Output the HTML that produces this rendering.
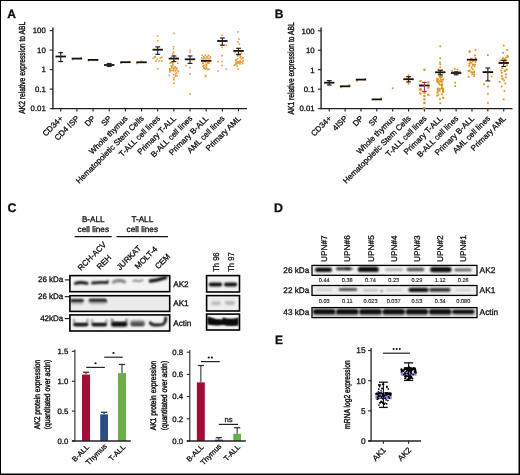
<!DOCTYPE html>
<html><head><meta charset="utf-8"><style>
html,body{margin:0;padding:0;background:#fff;}
text{stroke:#111;stroke-width:0.3px;}
svg{display:block;font-family:"Liberation Sans", sans-serif;text-rendering:geometricPrecision;opacity:0.999;}
</style></head><body>
<svg width="520" height="475" viewBox="0 0 520 475">
<rect x="0" y="0" width="520" height="475" fill="#fff"/>
<text x="7.30" y="17.50" font-size="12" text-anchor="start" font-weight="bold" fill="#111">A</text>
<line x1="52.90" y1="27.50" x2="52.90" y2="109.20" stroke="#222" stroke-width="1.4"/>
<line x1="49.70" y1="108.60" x2="52.90" y2="108.60" stroke="#222" stroke-width="1.1"/>
<text x="45.80" y="111.40" font-size="7.8" text-anchor="end" fill="#111">0.01</text>
<line x1="49.70" y1="89.10" x2="52.90" y2="89.10" stroke="#222" stroke-width="1.1"/>
<text x="45.80" y="91.90" font-size="7.8" text-anchor="end" fill="#111">0.1</text>
<line x1="49.70" y1="69.60" x2="52.90" y2="69.60" stroke="#222" stroke-width="1.1"/>
<text x="45.80" y="72.40" font-size="7.8" text-anchor="end" fill="#111">1</text>
<line x1="49.70" y1="50.10" x2="52.90" y2="50.10" stroke="#222" stroke-width="1.1"/>
<text x="45.80" y="52.90" font-size="7.8" text-anchor="end" fill="#111">10</text>
<line x1="49.70" y1="30.60" x2="52.90" y2="30.60" stroke="#222" stroke-width="1.1"/>
<text x="45.80" y="33.40" font-size="7.8" text-anchor="end" fill="#111">100</text>
<line x1="52.20" y1="108.60" x2="247.00" y2="108.60" stroke="#222" stroke-width="1.4"/>
<line x1="60.75" y1="108.60" x2="60.75" y2="111.40" stroke="#222" stroke-width="1.1"/>
<text x="63.55" y="119.00" font-size="8.0" text-anchor="end" transform="rotate(-45 63.55 119.0)" fill="#111">CD34+</text>
<line x1="76.91" y1="108.60" x2="76.91" y2="111.40" stroke="#222" stroke-width="1.1"/>
<text x="79.71" y="119.00" font-size="8.0" text-anchor="end" transform="rotate(-45 79.71 119.0)" fill="#111">CD4 ISP</text>
<line x1="93.07" y1="108.60" x2="93.07" y2="111.40" stroke="#222" stroke-width="1.1"/>
<text x="95.87" y="119.00" font-size="8.0" text-anchor="end" transform="rotate(-45 95.86999999999999 119.0)" fill="#111">DP</text>
<line x1="109.23" y1="108.60" x2="109.23" y2="111.40" stroke="#222" stroke-width="1.1"/>
<text x="112.03" y="119.00" font-size="8.0" text-anchor="end" transform="rotate(-45 112.03 119.0)" fill="#111">SP</text>
<line x1="125.39" y1="108.60" x2="125.39" y2="111.40" stroke="#222" stroke-width="1.1"/>
<text x="128.19" y="119.00" font-size="8.0" text-anchor="end" transform="rotate(-45 128.19 119.0)" fill="#111">Whole thymus</text>
<line x1="141.55" y1="108.60" x2="141.55" y2="111.40" stroke="#222" stroke-width="1.1"/>
<text x="144.35" y="119.00" font-size="8.0" text-anchor="end" transform="rotate(-45 144.35000000000002 119.0)" fill="#111">Hematopoietic Stem Cells</text>
<line x1="157.71" y1="108.60" x2="157.71" y2="111.40" stroke="#222" stroke-width="1.1"/>
<text x="160.51" y="119.00" font-size="8.0" text-anchor="end" transform="rotate(-45 160.51000000000002 119.0)" fill="#111">T-ALL cell lines</text>
<line x1="173.87" y1="108.60" x2="173.87" y2="111.40" stroke="#222" stroke-width="1.1"/>
<text x="176.67" y="119.00" font-size="8.0" text-anchor="end" transform="rotate(-45 176.67000000000002 119.0)" fill="#111">Primary T-ALL</text>
<line x1="190.03" y1="108.60" x2="190.03" y2="111.40" stroke="#222" stroke-width="1.1"/>
<text x="192.83" y="119.00" font-size="8.0" text-anchor="end" transform="rotate(-45 192.83 119.0)" fill="#111">B-ALL cell lines</text>
<line x1="206.19" y1="108.60" x2="206.19" y2="111.40" stroke="#222" stroke-width="1.1"/>
<text x="208.99" y="119.00" font-size="8.0" text-anchor="end" transform="rotate(-45 208.99 119.0)" fill="#111">Primary B-ALL</text>
<line x1="222.35" y1="108.60" x2="222.35" y2="111.40" stroke="#222" stroke-width="1.1"/>
<text x="225.15" y="119.00" font-size="8.0" text-anchor="end" transform="rotate(-45 225.15 119.0)" fill="#111">AML cell lines</text>
<line x1="238.51" y1="108.60" x2="238.51" y2="111.40" stroke="#222" stroke-width="1.1"/>
<text x="241.31" y="119.00" font-size="8.0" text-anchor="end" transform="rotate(-45 241.31 119.0)" fill="#111">Primary AML</text>
<text x="21.9" y="67.8" font-size="8.8" text-anchor="middle" transform="rotate(-90 21.9 67.8)" textLength="92.0" lengthAdjust="spacingAndGlyphs" dominant-baseline="central" fill="#111" style="stroke-width:0.42px">AK2 relative expression to ABL</text>
<rect x="59.95" y="51.60" width="1.6" height="1.6" fill="#ec9a2c"/>
<rect x="59.95" y="61.10" width="1.6" height="1.6" fill="#ec9a2c"/>
<line x1="55.55" y1="56.50" x2="65.95" y2="56.50" stroke="#111" stroke-width="1.8"/>
<line x1="60.75" y1="52.70" x2="60.75" y2="61.50" stroke="#222" stroke-width="1.1"/>
<line x1="58.35" y1="52.70" x2="63.15" y2="52.70" stroke="#222" stroke-width="1.2"/>
<line x1="58.35" y1="61.50" x2="63.15" y2="61.50" stroke="#222" stroke-width="1.2"/>
<rect x="71.81" y="58.80" width="1.6" height="1.6" fill="#ec9a2c"/>
<rect x="80.61" y="56.80" width="1.6" height="1.6" fill="#ec9a2c"/>
<line x1="71.71" y1="58.60" x2="82.11" y2="58.60" stroke="#111" stroke-width="1.8"/>
<rect x="87.57" y="59.90" width="1.6" height="1.6" fill="#ec9a2c"/>
<rect x="96.77" y="59.00" width="1.6" height="1.6" fill="#ec9a2c"/>
<line x1="87.87" y1="59.90" x2="98.27" y2="59.90" stroke="#111" stroke-width="1.8"/>
<rect x="108.03" y="62.70" width="1.6" height="1.6" fill="#ec9a2c"/>
<rect x="108.03" y="65.70" width="1.6" height="1.6" fill="#ec9a2c"/>
<rect x="109.43" y="64.70" width="1.6" height="1.6" fill="#ec9a2c"/>
<line x1="104.03" y1="65.00" x2="114.43" y2="65.00" stroke="#111" stroke-width="1.8"/>
<line x1="109.23" y1="63.60" x2="109.23" y2="66.40" stroke="#222" stroke-width="1.1"/>
<line x1="106.83" y1="63.60" x2="111.63" y2="63.60" stroke="#222" stroke-width="1.2"/>
<line x1="106.83" y1="66.40" x2="111.63" y2="66.40" stroke="#222" stroke-width="1.2"/>
<rect x="120.29" y="62.40" width="1.6" height="1.6" fill="#ec9a2c"/>
<rect x="128.69" y="60.70" width="1.6" height="1.6" fill="#ec9a2c"/>
<line x1="120.19" y1="62.20" x2="130.59" y2="62.20" stroke="#111" stroke-width="1.8"/>
<rect x="140.55" y="60.30" width="1.6" height="1.6" fill="#ec9a2c"/>
<rect x="136.15" y="62.60" width="1.6" height="1.6" fill="#ec9a2c"/>
<line x1="136.35" y1="62.30" x2="146.75" y2="62.30" stroke="#111" stroke-width="1.8"/>
<rect x="156.91" y="35.00" width="1.6" height="1.6" fill="#ec9a2c"/>
<rect x="156.91" y="40.10" width="1.6" height="1.6" fill="#ec9a2c"/>
<rect x="152.51" y="57.50" width="1.6" height="1.6" fill="#ec9a2c"/>
<rect x="154.41" y="56.20" width="1.6" height="1.6" fill="#ec9a2c"/>
<rect x="156.31" y="58.50" width="1.6" height="1.6" fill="#ec9a2c"/>
<rect x="158.21" y="60.30" width="1.6" height="1.6" fill="#ec9a2c"/>
<rect x="159.51" y="57.20" width="1.6" height="1.6" fill="#ec9a2c"/>
<rect x="161.01" y="56.50" width="1.6" height="1.6" fill="#ec9a2c"/>
<rect x="161.01" y="60.30" width="1.6" height="1.6" fill="#ec9a2c"/>
<rect x="155.01" y="60.30" width="1.6" height="1.6" fill="#ec9a2c"/>
<rect x="156.91" y="67.90" width="1.6" height="1.6" fill="#ec9a2c"/>
<rect x="153.81" y="56.00" width="1.6" height="1.6" fill="#ec9a2c"/>
<line x1="152.51" y1="49.70" x2="162.91" y2="49.70" stroke="#111" stroke-width="1.8"/>
<line x1="157.71" y1="46.90" x2="157.71" y2="54.30" stroke="#222" stroke-width="1.1"/>
<line x1="155.31" y1="46.90" x2="160.11" y2="46.90" stroke="#222" stroke-width="1.2"/>
<line x1="155.31" y1="54.30" x2="160.11" y2="54.30" stroke="#222" stroke-width="1.2"/>
<rect x="173.07" y="32.50" width="1.6" height="1.6" fill="#ec9a2c"/>
<rect x="172.67" y="45.90" width="1.6" height="1.6" fill="#ec9a2c"/>
<rect x="172.67" y="48.00" width="1.6" height="1.6" fill="#ec9a2c"/>
<rect x="172.67" y="51.20" width="1.6" height="1.6" fill="#ec9a2c"/>
<rect x="172.07" y="53.10" width="1.6" height="1.6" fill="#ec9a2c"/>
<rect x="173.27" y="54.70" width="1.6" height="1.6" fill="#ec9a2c"/>
<rect x="170.07" y="56.70" width="1.6" height="1.6" fill="#ec9a2c"/>
<rect x="176.07" y="57.20" width="1.6" height="1.6" fill="#ec9a2c"/>
<rect x="176.97" y="62.30" width="1.6" height="1.6" fill="#ec9a2c"/>
<rect x="172.75" y="68.71" width="1.6" height="1.6" fill="#ec9a2c"/>
<rect x="170.17" y="61.88" width="1.6" height="1.6" fill="#ec9a2c"/>
<rect x="173.18" y="66.94" width="1.6" height="1.6" fill="#ec9a2c"/>
<rect x="169.34" y="62.34" width="1.6" height="1.6" fill="#ec9a2c"/>
<rect x="171.26" y="62.03" width="1.6" height="1.6" fill="#ec9a2c"/>
<rect x="174.85" y="73.34" width="1.6" height="1.6" fill="#ec9a2c"/>
<rect x="168.86" y="71.13" width="1.6" height="1.6" fill="#ec9a2c"/>
<rect x="174.49" y="75.20" width="1.6" height="1.6" fill="#ec9a2c"/>
<rect x="174.13" y="66.04" width="1.6" height="1.6" fill="#ec9a2c"/>
<rect x="173.33" y="67.58" width="1.6" height="1.6" fill="#ec9a2c"/>
<rect x="169.02" y="67.78" width="1.6" height="1.6" fill="#ec9a2c"/>
<rect x="168.75" y="68.29" width="1.6" height="1.6" fill="#ec9a2c"/>
<rect x="172.74" y="69.97" width="1.6" height="1.6" fill="#ec9a2c"/>
<rect x="173.25" y="60.04" width="1.6" height="1.6" fill="#ec9a2c"/>
<rect x="174.36" y="70.01" width="1.6" height="1.6" fill="#ec9a2c"/>
<rect x="172.68" y="61.30" width="1.6" height="1.6" fill="#ec9a2c"/>
<rect x="171.03" y="67.21" width="1.6" height="1.6" fill="#ec9a2c"/>
<rect x="176.20" y="75.20" width="1.6" height="1.6" fill="#ec9a2c"/>
<rect x="174.98" y="67.01" width="1.6" height="1.6" fill="#ec9a2c"/>
<rect x="171.13" y="66.05" width="1.6" height="1.6" fill="#ec9a2c"/>
<rect x="169.12" y="69.85" width="1.6" height="1.6" fill="#ec9a2c"/>
<rect x="176.26" y="67.61" width="1.6" height="1.6" fill="#ec9a2c"/>
<rect x="172.03" y="63.18" width="1.6" height="1.6" fill="#ec9a2c"/>
<rect x="168.48" y="74.69" width="1.6" height="1.6" fill="#ec9a2c"/>
<rect x="170.40" y="65.18" width="1.6" height="1.6" fill="#ec9a2c"/>
<rect x="177.49" y="71.01" width="1.6" height="1.6" fill="#ec9a2c"/>
<rect x="172.13" y="64.79" width="1.6" height="1.6" fill="#ec9a2c"/>
<rect x="175.63" y="72.25" width="1.6" height="1.6" fill="#ec9a2c"/>
<rect x="170.95" y="69.70" width="1.6" height="1.6" fill="#ec9a2c"/>
<rect x="177.34" y="70.27" width="1.6" height="1.6" fill="#ec9a2c"/>
<rect x="175.44" y="69.07" width="1.6" height="1.6" fill="#ec9a2c"/>
<rect x="169.40" y="69.42" width="1.6" height="1.6" fill="#ec9a2c"/>
<rect x="169.02" y="69.23" width="1.6" height="1.6" fill="#ec9a2c"/>
<rect x="172.67" y="73.90" width="1.6" height="1.6" fill="#ec9a2c"/>
<rect x="173.27" y="77.10" width="1.6" height="1.6" fill="#ec9a2c"/>
<rect x="173.07" y="79.00" width="1.6" height="1.6" fill="#ec9a2c"/>
<rect x="173.07" y="82.40" width="1.6" height="1.6" fill="#ec9a2c"/>
<line x1="168.67" y1="58.60" x2="179.07" y2="58.60" stroke="#111" stroke-width="1.8"/>
<line x1="173.87" y1="56.00" x2="173.87" y2="61.50" stroke="#222" stroke-width="1.1"/>
<line x1="171.47" y1="56.00" x2="176.27" y2="56.00" stroke="#222" stroke-width="1.2"/>
<line x1="171.47" y1="61.50" x2="176.27" y2="61.50" stroke="#222" stroke-width="1.2"/>
<rect x="189.23" y="49.60" width="1.6" height="1.6" fill="#ec9a2c"/>
<rect x="189.23" y="51.60" width="1.6" height="1.6" fill="#ec9a2c"/>
<rect x="184.93" y="64.80" width="1.6" height="1.6" fill="#ec9a2c"/>
<rect x="189.23" y="66.80" width="1.6" height="1.6" fill="#ec9a2c"/>
<rect x="189.23" y="73.20" width="1.6" height="1.6" fill="#ec9a2c"/>
<rect x="189.23" y="93.20" width="1.6" height="1.6" fill="#ec9a2c"/>
<line x1="184.83" y1="59.30" x2="195.23" y2="59.30" stroke="#111" stroke-width="1.8"/>
<line x1="190.03" y1="56.00" x2="190.03" y2="63.40" stroke="#222" stroke-width="1.1"/>
<line x1="187.63" y1="56.00" x2="192.43" y2="56.00" stroke="#222" stroke-width="1.2"/>
<line x1="187.63" y1="63.40" x2="192.43" y2="63.40" stroke="#222" stroke-width="1.2"/>
<rect x="201.39" y="54.70" width="1.6" height="1.6" fill="#ec9a2c"/>
<rect x="202.99" y="55.90" width="1.6" height="1.6" fill="#ec9a2c"/>
<rect x="204.59" y="54.70" width="1.6" height="1.6" fill="#ec9a2c"/>
<rect x="206.19" y="55.90" width="1.6" height="1.6" fill="#ec9a2c"/>
<rect x="207.79" y="54.70" width="1.6" height="1.6" fill="#ec9a2c"/>
<rect x="209.39" y="55.90" width="1.6" height="1.6" fill="#ec9a2c"/>
<rect x="200.79" y="57.00" width="1.6" height="1.6" fill="#ec9a2c"/>
<rect x="202.29" y="57.80" width="1.6" height="1.6" fill="#ec9a2c"/>
<rect x="203.79" y="57.00" width="1.6" height="1.6" fill="#ec9a2c"/>
<rect x="205.29" y="57.80" width="1.6" height="1.6" fill="#ec9a2c"/>
<rect x="206.79" y="57.00" width="1.6" height="1.6" fill="#ec9a2c"/>
<rect x="208.29" y="57.80" width="1.6" height="1.6" fill="#ec9a2c"/>
<rect x="209.79" y="57.00" width="1.6" height="1.6" fill="#ec9a2c"/>
<rect x="206.76" y="62.02" width="1.6" height="1.6" fill="#ec9a2c"/>
<rect x="205.24" y="65.78" width="1.6" height="1.6" fill="#ec9a2c"/>
<rect x="207.50" y="62.43" width="1.6" height="1.6" fill="#ec9a2c"/>
<rect x="205.48" y="67.16" width="1.6" height="1.6" fill="#ec9a2c"/>
<rect x="203.49" y="64.74" width="1.6" height="1.6" fill="#ec9a2c"/>
<rect x="204.46" y="60.73" width="1.6" height="1.6" fill="#ec9a2c"/>
<rect x="202.29" y="65.38" width="1.6" height="1.6" fill="#ec9a2c"/>
<rect x="203.46" y="67.05" width="1.6" height="1.6" fill="#ec9a2c"/>
<rect x="202.09" y="62.56" width="1.6" height="1.6" fill="#ec9a2c"/>
<rect x="207.11" y="68.68" width="1.6" height="1.6" fill="#ec9a2c"/>
<rect x="206.22" y="67.70" width="1.6" height="1.6" fill="#ec9a2c"/>
<rect x="204.16" y="60.97" width="1.6" height="1.6" fill="#ec9a2c"/>
<rect x="202.62" y="64.68" width="1.6" height="1.6" fill="#ec9a2c"/>
<rect x="204.44" y="68.32" width="1.6" height="1.6" fill="#ec9a2c"/>
<rect x="207.68" y="61.94" width="1.6" height="1.6" fill="#ec9a2c"/>
<rect x="208.47" y="61.70" width="1.6" height="1.6" fill="#ec9a2c"/>
<rect x="205.76" y="64.33" width="1.6" height="1.6" fill="#ec9a2c"/>
<rect x="205.28" y="63.44" width="1.6" height="1.6" fill="#ec9a2c"/>
<rect x="202.06" y="62.20" width="1.6" height="1.6" fill="#ec9a2c"/>
<rect x="203.48" y="67.63" width="1.6" height="1.6" fill="#ec9a2c"/>
<rect x="203.29" y="66.94" width="1.6" height="1.6" fill="#ec9a2c"/>
<rect x="208.23" y="68.45" width="1.6" height="1.6" fill="#ec9a2c"/>
<rect x="205.39" y="74.70" width="1.6" height="1.6" fill="#ec9a2c"/>
<rect x="204.49" y="75.70" width="1.6" height="1.6" fill="#ec9a2c"/>
<line x1="200.99" y1="60.80" x2="211.39" y2="60.80" stroke="#111" stroke-width="1.8"/>
<rect x="221.25" y="34.50" width="1.6" height="1.6" fill="#ec9a2c"/>
<rect x="225.45" y="44.40" width="1.6" height="1.6" fill="#ec9a2c"/>
<rect x="221.25" y="46.50" width="1.6" height="1.6" fill="#ec9a2c"/>
<rect x="221.25" y="54.90" width="1.6" height="1.6" fill="#ec9a2c"/>
<rect x="217.25" y="60.80" width="1.6" height="1.6" fill="#ec9a2c"/>
<rect x="221.25" y="60.80" width="1.6" height="1.6" fill="#ec9a2c"/>
<rect x="221.25" y="64.60" width="1.6" height="1.6" fill="#ec9a2c"/>
<rect x="225.45" y="68.40" width="1.6" height="1.6" fill="#ec9a2c"/>
<rect x="217.25" y="70.30" width="1.6" height="1.6" fill="#ec9a2c"/>
<line x1="217.15" y1="41.00" x2="227.55" y2="41.00" stroke="#111" stroke-width="1.8"/>
<line x1="222.35" y1="38.00" x2="222.35" y2="45.20" stroke="#222" stroke-width="1.1"/>
<line x1="219.95" y1="38.00" x2="224.75" y2="38.00" stroke="#222" stroke-width="1.2"/>
<line x1="219.95" y1="45.20" x2="224.75" y2="45.20" stroke="#222" stroke-width="1.2"/>
<rect x="237.01" y="31.10" width="1.6" height="1.6" fill="#ec9a2c"/>
<rect x="238.21" y="38.10" width="1.6" height="1.6" fill="#ec9a2c"/>
<rect x="237.01" y="41.00" width="1.6" height="1.6" fill="#ec9a2c"/>
<rect x="238.51" y="43.40" width="1.6" height="1.6" fill="#ec9a2c"/>
<rect x="234.41" y="51.30" width="1.6" height="1.6" fill="#ec9a2c"/>
<rect x="236.31" y="53.20" width="1.6" height="1.6" fill="#ec9a2c"/>
<rect x="239.21" y="53.00" width="1.6" height="1.6" fill="#ec9a2c"/>
<rect x="240.71" y="52.60" width="1.6" height="1.6" fill="#ec9a2c"/>
<rect x="237.01" y="55.10" width="1.6" height="1.6" fill="#ec9a2c"/>
<rect x="239.51" y="56.40" width="1.6" height="1.6" fill="#ec9a2c"/>
<rect x="236.72" y="61.92" width="1.6" height="1.6" fill="#ec9a2c"/>
<rect x="239.40" y="60.79" width="1.6" height="1.6" fill="#ec9a2c"/>
<rect x="235.24" y="61.49" width="1.6" height="1.6" fill="#ec9a2c"/>
<rect x="240.08" y="61.63" width="1.6" height="1.6" fill="#ec9a2c"/>
<rect x="239.20" y="63.17" width="1.6" height="1.6" fill="#ec9a2c"/>
<rect x="234.37" y="63.98" width="1.6" height="1.6" fill="#ec9a2c"/>
<rect x="236.91" y="58.04" width="1.6" height="1.6" fill="#ec9a2c"/>
<rect x="242.28" y="60.09" width="1.6" height="1.6" fill="#ec9a2c"/>
<rect x="241.76" y="61.12" width="1.6" height="1.6" fill="#ec9a2c"/>
<rect x="236.82" y="60.98" width="1.6" height="1.6" fill="#ec9a2c"/>
<rect x="236.47" y="61.41" width="1.6" height="1.6" fill="#ec9a2c"/>
<rect x="241.90" y="62.82" width="1.6" height="1.6" fill="#ec9a2c"/>
<rect x="238.49" y="61.13" width="1.6" height="1.6" fill="#ec9a2c"/>
<rect x="238.15" y="62.39" width="1.6" height="1.6" fill="#ec9a2c"/>
<rect x="236.38" y="65.28" width="1.6" height="1.6" fill="#ec9a2c"/>
<rect x="234.99" y="59.33" width="1.6" height="1.6" fill="#ec9a2c"/>
<rect x="233.39" y="64.58" width="1.6" height="1.6" fill="#ec9a2c"/>
<rect x="239.87" y="55.70" width="1.6" height="1.6" fill="#ec9a2c"/>
<rect x="235.12" y="63.16" width="1.6" height="1.6" fill="#ec9a2c"/>
<rect x="240.44" y="58.03" width="1.6" height="1.6" fill="#ec9a2c"/>
<rect x="239.01" y="60.49" width="1.6" height="1.6" fill="#ec9a2c"/>
<rect x="235.13" y="59.07" width="1.6" height="1.6" fill="#ec9a2c"/>
<rect x="236.19" y="62.89" width="1.6" height="1.6" fill="#ec9a2c"/>
<rect x="236.75" y="61.28" width="1.6" height="1.6" fill="#ec9a2c"/>
<rect x="241.95" y="57.83" width="1.6" height="1.6" fill="#ec9a2c"/>
<rect x="242.09" y="56.91" width="1.6" height="1.6" fill="#ec9a2c"/>
<rect x="237.21" y="68.10" width="1.6" height="1.6" fill="#ec9a2c"/>
<line x1="233.31" y1="50.90" x2="243.71" y2="50.90" stroke="#111" stroke-width="1.8"/>
<line x1="238.51" y1="48.30" x2="238.51" y2="54.70" stroke="#222" stroke-width="1.1"/>
<line x1="236.11" y1="48.30" x2="240.91" y2="48.30" stroke="#222" stroke-width="1.2"/>
<line x1="236.11" y1="54.70" x2="240.91" y2="54.70" stroke="#222" stroke-width="1.2"/>
<text x="274.70" y="18.20" font-size="12" text-anchor="start" font-weight="bold" fill="#111">B</text>
<line x1="321.10" y1="27.50" x2="321.10" y2="109.20" stroke="#222" stroke-width="1.4"/>
<line x1="317.90" y1="108.60" x2="321.10" y2="108.60" stroke="#222" stroke-width="1.1"/>
<text x="314.60" y="111.40" font-size="7.8" text-anchor="end" fill="#111">0.01</text>
<line x1="317.90" y1="89.15" x2="321.10" y2="89.15" stroke="#222" stroke-width="1.1"/>
<text x="314.60" y="91.95" font-size="7.8" text-anchor="end" fill="#111">0.1</text>
<line x1="317.90" y1="69.70" x2="321.10" y2="69.70" stroke="#222" stroke-width="1.1"/>
<text x="314.60" y="72.50" font-size="7.8" text-anchor="end" fill="#111">1</text>
<line x1="317.90" y1="50.25" x2="321.10" y2="50.25" stroke="#222" stroke-width="1.1"/>
<text x="314.60" y="53.05" font-size="7.8" text-anchor="end" fill="#111">10</text>
<line x1="317.90" y1="30.80" x2="321.10" y2="30.80" stroke="#222" stroke-width="1.1"/>
<text x="314.60" y="33.60" font-size="7.8" text-anchor="end" fill="#111">100</text>
<line x1="320.40" y1="108.60" x2="512.50" y2="108.60" stroke="#222" stroke-width="1.4"/>
<line x1="329.25" y1="108.60" x2="329.25" y2="111.40" stroke="#222" stroke-width="1.1"/>
<text x="332.05" y="119.00" font-size="8.0" text-anchor="end" transform="rotate(-45 332.05 119.0)" fill="#111">CD34+</text>
<line x1="345.11" y1="108.60" x2="345.11" y2="111.40" stroke="#222" stroke-width="1.1"/>
<text x="347.91" y="119.00" font-size="8.0" text-anchor="end" transform="rotate(-45 347.91 119.0)" fill="#111">4ISP</text>
<line x1="360.97" y1="108.60" x2="360.97" y2="111.40" stroke="#222" stroke-width="1.1"/>
<text x="363.77" y="119.00" font-size="8.0" text-anchor="end" transform="rotate(-45 363.77000000000004 119.0)" fill="#111">DP</text>
<line x1="376.83" y1="108.60" x2="376.83" y2="111.40" stroke="#222" stroke-width="1.1"/>
<text x="379.63" y="119.00" font-size="8.0" text-anchor="end" transform="rotate(-45 379.63 119.0)" fill="#111">SP</text>
<line x1="392.69" y1="108.60" x2="392.69" y2="111.40" stroke="#222" stroke-width="1.1"/>
<text x="395.49" y="119.00" font-size="8.0" text-anchor="end" transform="rotate(-45 395.49 119.0)" fill="#111">Whole thymus</text>
<line x1="408.55" y1="108.60" x2="408.55" y2="111.40" stroke="#222" stroke-width="1.1"/>
<text x="411.35" y="119.00" font-size="8.0" text-anchor="end" transform="rotate(-45 411.35 119.0)" fill="#111">Hematopoietic Stem Cells</text>
<line x1="424.41" y1="108.60" x2="424.41" y2="111.40" stroke="#222" stroke-width="1.1"/>
<text x="427.21" y="119.00" font-size="8.0" text-anchor="end" transform="rotate(-45 427.21 119.0)" fill="#111">T-ALL cell lines</text>
<line x1="440.27" y1="108.60" x2="440.27" y2="111.40" stroke="#222" stroke-width="1.1"/>
<text x="443.07" y="119.00" font-size="8.0" text-anchor="end" transform="rotate(-45 443.07 119.0)" fill="#111">Primary T-ALL</text>
<line x1="456.13" y1="108.60" x2="456.13" y2="111.40" stroke="#222" stroke-width="1.1"/>
<text x="458.93" y="119.00" font-size="8.0" text-anchor="end" transform="rotate(-45 458.93 119.0)" fill="#111">B-ALL cell lines</text>
<line x1="471.99" y1="108.60" x2="471.99" y2="111.40" stroke="#222" stroke-width="1.1"/>
<text x="474.79" y="119.00" font-size="8.0" text-anchor="end" transform="rotate(-45 474.79 119.0)" fill="#111">Primary B-ALL</text>
<line x1="487.85" y1="108.60" x2="487.85" y2="111.40" stroke="#222" stroke-width="1.1"/>
<text x="490.65" y="119.00" font-size="8.0" text-anchor="end" transform="rotate(-45 490.65000000000003 119.0)" fill="#111">AML cell lines</text>
<line x1="503.71" y1="108.60" x2="503.71" y2="111.40" stroke="#222" stroke-width="1.1"/>
<text x="506.51" y="119.00" font-size="8.0" text-anchor="end" transform="rotate(-45 506.51 119.0)" fill="#111">Primary AML</text>
<text x="291.2" y="68.39999999999999" font-size="8.8" text-anchor="middle" transform="rotate(-90 291.2 68.39999999999999)" textLength="92.39999999999999" lengthAdjust="spacingAndGlyphs" dominant-baseline="central" fill="#111" style="stroke-width:0.42px">AK1 relative expression to ABL</text>
<rect x="328.38" y="80.12" width="1.75" height="1.75" fill="#e8900c"/>
<rect x="328.38" y="83.72" width="1.75" height="1.75" fill="#e8900c"/>
<line x1="324.05" y1="82.70" x2="334.45" y2="82.70" stroke="#111" stroke-width="1.8"/>
<line x1="329.25" y1="80.60" x2="329.25" y2="85.00" stroke="#222" stroke-width="1.1"/>
<line x1="326.85" y1="80.60" x2="331.65" y2="80.60" stroke="#222" stroke-width="1.2"/>
<line x1="326.85" y1="85.00" x2="331.65" y2="85.00" stroke="#222" stroke-width="1.2"/>
<rect x="340.34" y="86.42" width="1.75" height="1.75" fill="#e8900c"/>
<rect x="348.34" y="84.12" width="1.75" height="1.75" fill="#e8900c"/>
<line x1="339.91" y1="86.30" x2="350.31" y2="86.30" stroke="#111" stroke-width="1.8"/>
<rect x="356.10" y="80.12" width="1.75" height="1.75" fill="#e8900c"/>
<rect x="364.30" y="78.12" width="1.75" height="1.75" fill="#e8900c"/>
<line x1="355.77" y1="79.60" x2="366.17" y2="79.60" stroke="#111" stroke-width="1.8"/>
<rect x="380.15" y="97.62" width="1.75" height="1.75" fill="#e8900c"/>
<line x1="371.63" y1="99.40" x2="382.03" y2="99.40" stroke="#111" stroke-width="1.8"/>
<rect x="391.81" y="87.42" width="1.75" height="1.75" fill="#e8900c"/>
<rect x="407.68" y="74.53" width="1.75" height="1.75" fill="#e8900c"/>
<rect x="407.68" y="76.83" width="1.75" height="1.75" fill="#e8900c"/>
<rect x="407.68" y="80.62" width="1.75" height="1.75" fill="#e8900c"/>
<rect x="407.68" y="82.92" width="1.75" height="1.75" fill="#e8900c"/>
<line x1="403.35" y1="79.20" x2="413.75" y2="79.20" stroke="#111" stroke-width="1.8"/>
<line x1="408.55" y1="76.70" x2="408.55" y2="81.90" stroke="#222" stroke-width="1.1"/>
<line x1="406.15" y1="76.70" x2="410.95" y2="76.70" stroke="#222" stroke-width="1.2"/>
<line x1="406.15" y1="81.90" x2="410.95" y2="81.90" stroke="#222" stroke-width="1.2"/>
<rect x="423.31" y="68.70" width="2.2" height="2.2" fill="#e8900c"/>
<rect x="419.31" y="80.00" width="2.2" height="2.2" fill="#e8900c"/>
<rect x="427.31" y="81.30" width="2.2" height="2.2" fill="#e8900c"/>
<rect x="427.31" y="86.50" width="2.2" height="2.2" fill="#e8900c"/>
<rect x="419.31" y="88.90" width="2.2" height="2.2" fill="#e8900c"/>
<rect x="419.31" y="92.40" width="2.2" height="2.2" fill="#e8900c"/>
<rect x="423.31" y="91.60" width="2.2" height="2.2" fill="#e8900c"/>
<rect x="419.31" y="84.40" width="2.2" height="2.2" fill="#e8900c"/>
<rect x="427.31" y="93.70" width="2.2" height="2.2" fill="#e8900c"/>
<rect x="423.31" y="94.90" width="2.2" height="2.2" fill="#e8900c"/>
<rect x="423.31" y="98.30" width="2.2" height="2.2" fill="#e8900c"/>
<rect x="423.31" y="101.80" width="2.2" height="2.2" fill="#e8900c"/>
<rect x="423.31" y="107.10" width="2.2" height="2.2" fill="#e8900c"/>
<rect x="419.31" y="87.90" width="2.2" height="2.2" fill="#e8900c"/>
<line x1="419.21" y1="85.50" x2="429.61" y2="85.50" stroke="#111" stroke-width="1.8"/>
<line x1="424.41" y1="82.40" x2="424.41" y2="91.50" stroke="#c8205a" stroke-width="1.1"/>
<line x1="422.01" y1="82.40" x2="426.81" y2="82.40" stroke="#c8205a" stroke-width="1.2"/>
<line x1="422.01" y1="91.50" x2="426.81" y2="91.50" stroke="#c8205a" stroke-width="1.2"/>
<rect x="439.39" y="45.52" width="1.75" height="1.75" fill="#e8900c"/>
<rect x="439.39" y="57.33" width="1.75" height="1.75" fill="#e8900c"/>
<rect x="439.00" y="61.52" width="1.75" height="1.75" fill="#e8900c"/>
<rect x="439.39" y="63.33" width="1.75" height="1.75" fill="#e8900c"/>
<rect x="439.39" y="66.42" width="1.75" height="1.75" fill="#e8900c"/>
<rect x="437.39" y="68.62" width="1.75" height="1.75" fill="#e8900c"/>
<rect x="441.39" y="69.12" width="1.75" height="1.75" fill="#e8900c"/>
<rect x="436.99" y="81.31" width="1.75" height="1.75" fill="#e8900c"/>
<rect x="442.37" y="87.70" width="1.75" height="1.75" fill="#e8900c"/>
<rect x="439.78" y="76.18" width="1.75" height="1.75" fill="#e8900c"/>
<rect x="438.56" y="80.12" width="1.75" height="1.75" fill="#e8900c"/>
<rect x="441.42" y="83.68" width="1.75" height="1.75" fill="#e8900c"/>
<rect x="440.56" y="76.49" width="1.75" height="1.75" fill="#e8900c"/>
<rect x="436.91" y="88.20" width="1.75" height="1.75" fill="#e8900c"/>
<rect x="436.87" y="78.93" width="1.75" height="1.75" fill="#e8900c"/>
<rect x="440.51" y="83.99" width="1.75" height="1.75" fill="#e8900c"/>
<rect x="440.26" y="80.89" width="1.75" height="1.75" fill="#e8900c"/>
<rect x="436.03" y="94.82" width="1.75" height="1.75" fill="#e8900c"/>
<rect x="442.04" y="88.62" width="1.75" height="1.75" fill="#e8900c"/>
<rect x="441.02" y="86.98" width="1.75" height="1.75" fill="#e8900c"/>
<rect x="441.07" y="80.96" width="1.75" height="1.75" fill="#e8900c"/>
<rect x="436.69" y="91.21" width="1.75" height="1.75" fill="#e8900c"/>
<rect x="442.37" y="91.21" width="1.75" height="1.75" fill="#e8900c"/>
<rect x="436.18" y="78.07" width="1.75" height="1.75" fill="#e8900c"/>
<rect x="438.08" y="72.12" width="1.75" height="1.75" fill="#e8900c"/>
<rect x="437.11" y="78.38" width="1.75" height="1.75" fill="#e8900c"/>
<rect x="442.19" y="78.77" width="1.75" height="1.75" fill="#e8900c"/>
<rect x="436.85" y="87.64" width="1.75" height="1.75" fill="#e8900c"/>
<rect x="440.60" y="80.28" width="1.75" height="1.75" fill="#e8900c"/>
<rect x="439.35" y="76.93" width="1.75" height="1.75" fill="#e8900c"/>
<rect x="438.64" y="89.70" width="1.75" height="1.75" fill="#e8900c"/>
<rect x="439.10" y="87.96" width="1.75" height="1.75" fill="#e8900c"/>
<rect x="441.04" y="85.08" width="1.75" height="1.75" fill="#e8900c"/>
<rect x="439.68" y="75.41" width="1.75" height="1.75" fill="#e8900c"/>
<rect x="442.13" y="89.27" width="1.75" height="1.75" fill="#e8900c"/>
<rect x="436.79" y="81.53" width="1.75" height="1.75" fill="#e8900c"/>
<rect x="436.27" y="80.07" width="1.75" height="1.75" fill="#e8900c"/>
<rect x="442.09" y="96.69" width="1.75" height="1.75" fill="#e8900c"/>
<rect x="441.20" y="87.69" width="1.75" height="1.75" fill="#e8900c"/>
<rect x="436.71" y="91.73" width="1.75" height="1.75" fill="#e8900c"/>
<rect x="442.20" y="90.45" width="1.75" height="1.75" fill="#e8900c"/>
<rect x="440.18" y="78.80" width="1.75" height="1.75" fill="#e8900c"/>
<rect x="438.81" y="76.01" width="1.75" height="1.75" fill="#e8900c"/>
<rect x="437.54" y="93.88" width="1.75" height="1.75" fill="#e8900c"/>
<rect x="438.94" y="72.12" width="1.75" height="1.75" fill="#e8900c"/>
<rect x="438.75" y="83.64" width="1.75" height="1.75" fill="#e8900c"/>
<rect x="439.04" y="75.24" width="1.75" height="1.75" fill="#e8900c"/>
<rect x="437.32" y="89.54" width="1.75" height="1.75" fill="#e8900c"/>
<rect x="440.74" y="83.61" width="1.75" height="1.75" fill="#e8900c"/>
<rect x="438.14" y="82.38" width="1.75" height="1.75" fill="#e8900c"/>
<rect x="442.45" y="97.12" width="1.75" height="1.75" fill="#e8900c"/>
<rect x="441.20" y="75.16" width="1.75" height="1.75" fill="#e8900c"/>
<rect x="441.07" y="93.54" width="1.75" height="1.75" fill="#e8900c"/>
<rect x="439.09" y="98.12" width="1.75" height="1.75" fill="#e8900c"/>
<rect x="439.39" y="102.42" width="1.75" height="1.75" fill="#e8900c"/>
<line x1="435.07" y1="72.30" x2="445.47" y2="72.30" stroke="#111" stroke-width="1.8"/>
<line x1="440.27" y1="70.30" x2="440.27" y2="74.80" stroke="#222" stroke-width="1.1"/>
<line x1="437.87" y1="70.30" x2="442.67" y2="70.30" stroke="#222" stroke-width="1.2"/>
<line x1="437.87" y1="74.80" x2="442.67" y2="74.80" stroke="#222" stroke-width="1.2"/>
<rect x="453.86" y="67.92" width="1.75" height="1.75" fill="#e8900c"/>
<rect x="456.56" y="68.62" width="1.75" height="1.75" fill="#e8900c"/>
<rect x="451.25" y="70.12" width="1.75" height="1.75" fill="#e8900c"/>
<rect x="458.86" y="70.53" width="1.75" height="1.75" fill="#e8900c"/>
<rect x="454.36" y="81.83" width="1.75" height="1.75" fill="#e8900c"/>
<rect x="454.36" y="85.33" width="1.75" height="1.75" fill="#e8900c"/>
<line x1="450.93" y1="73.00" x2="461.33" y2="73.00" stroke="#111" stroke-width="1.8"/>
<line x1="456.13" y1="71.80" x2="456.13" y2="74.80" stroke="#222" stroke-width="1.1"/>
<line x1="453.73" y1="71.80" x2="458.53" y2="71.80" stroke="#222" stroke-width="1.2"/>
<line x1="453.73" y1="74.80" x2="458.53" y2="74.80" stroke="#222" stroke-width="1.2"/>
<rect x="468.68" y="62.90" width="1.75" height="1.75" fill="#e8900c"/>
<rect x="473.43" y="70.63" width="1.75" height="1.75" fill="#e8900c"/>
<rect x="474.18" y="63.58" width="1.75" height="1.75" fill="#e8900c"/>
<rect x="470.38" y="71.17" width="1.75" height="1.75" fill="#e8900c"/>
<rect x="471.46" y="73.42" width="1.75" height="1.75" fill="#e8900c"/>
<rect x="472.04" y="60.36" width="1.75" height="1.75" fill="#e8900c"/>
<rect x="474.69" y="57.04" width="1.75" height="1.75" fill="#e8900c"/>
<rect x="470.42" y="59.25" width="1.75" height="1.75" fill="#e8900c"/>
<rect x="467.72" y="75.86" width="1.75" height="1.75" fill="#e8900c"/>
<rect x="469.37" y="61.22" width="1.75" height="1.75" fill="#e8900c"/>
<rect x="468.79" y="50.17" width="1.75" height="1.75" fill="#e8900c"/>
<rect x="471.95" y="64.32" width="1.75" height="1.75" fill="#e8900c"/>
<rect x="474.19" y="54.53" width="1.75" height="1.75" fill="#e8900c"/>
<rect x="473.00" y="71.45" width="1.75" height="1.75" fill="#e8900c"/>
<rect x="470.67" y="66.60" width="1.75" height="1.75" fill="#e8900c"/>
<rect x="473.54" y="73.39" width="1.75" height="1.75" fill="#e8900c"/>
<rect x="474.62" y="48.92" width="1.75" height="1.75" fill="#e8900c"/>
<rect x="473.45" y="65.35" width="1.75" height="1.75" fill="#e8900c"/>
<rect x="471.78" y="68.38" width="1.75" height="1.75" fill="#e8900c"/>
<rect x="468.77" y="51.37" width="1.75" height="1.75" fill="#e8900c"/>
<rect x="467.63" y="70.17" width="1.75" height="1.75" fill="#e8900c"/>
<rect x="470.64" y="61.91" width="1.75" height="1.75" fill="#e8900c"/>
<rect x="474.43" y="58.64" width="1.75" height="1.75" fill="#e8900c"/>
<rect x="468.32" y="64.90" width="1.75" height="1.75" fill="#e8900c"/>
<rect x="468.80" y="69.68" width="1.75" height="1.75" fill="#e8900c"/>
<rect x="470.09" y="57.69" width="1.75" height="1.75" fill="#e8900c"/>
<rect x="473.01" y="59.33" width="1.75" height="1.75" fill="#e8900c"/>
<rect x="472.21" y="63.62" width="1.75" height="1.75" fill="#e8900c"/>
<rect x="473.17" y="75.34" width="1.75" height="1.75" fill="#e8900c"/>
<rect x="474.69" y="61.15" width="1.75" height="1.75" fill="#e8900c"/>
<rect x="471.40" y="71.50" width="1.75" height="1.75" fill="#e8900c"/>
<rect x="471.29" y="58.50" width="1.75" height="1.75" fill="#e8900c"/>
<line x1="466.79" y1="59.70" x2="477.19" y2="59.70" stroke="#111" stroke-width="1.8"/>
<rect x="486.98" y="54.23" width="1.75" height="1.75" fill="#e8900c"/>
<rect x="490.68" y="75.72" width="1.75" height="1.75" fill="#e8900c"/>
<rect x="483.18" y="83.33" width="1.75" height="1.75" fill="#e8900c"/>
<rect x="487.08" y="85.62" width="1.75" height="1.75" fill="#e8900c"/>
<rect x="487.08" y="92.92" width="1.75" height="1.75" fill="#e8900c"/>
<rect x="487.08" y="101.92" width="1.75" height="1.75" fill="#e8900c"/>
<line x1="482.65" y1="72.10" x2="493.05" y2="72.10" stroke="#111" stroke-width="1.8"/>
<line x1="487.85" y1="68.00" x2="487.85" y2="80.90" stroke="#222" stroke-width="1.1"/>
<line x1="485.45" y1="68.00" x2="490.25" y2="68.00" stroke="#222" stroke-width="1.2"/>
<line x1="485.45" y1="80.90" x2="490.25" y2="80.90" stroke="#222" stroke-width="1.2"/>
<rect x="502.83" y="44.73" width="1.75" height="1.75" fill="#e8900c"/>
<rect x="506.38" y="48.92" width="1.75" height="1.75" fill="#e8900c"/>
<rect x="502.27" y="51.92" width="1.75" height="1.75" fill="#e8900c"/>
<rect x="506.85" y="56.02" width="1.75" height="1.75" fill="#e8900c"/>
<rect x="501.84" y="57.62" width="1.75" height="1.75" fill="#e8900c"/>
<rect x="503.83" y="59.52" width="1.75" height="1.75" fill="#e8900c"/>
<rect x="500.22" y="62.12" width="1.75" height="1.75" fill="#e8900c"/>
<rect x="506.17" y="64.42" width="1.75" height="1.75" fill="#e8900c"/>
<rect x="501.47" y="67.42" width="1.75" height="1.75" fill="#e8900c"/>
<rect x="503.79" y="69.72" width="1.75" height="1.75" fill="#e8900c"/>
<rect x="500.89" y="71.92" width="1.75" height="1.75" fill="#e8900c"/>
<rect x="505.23" y="73.53" width="1.75" height="1.75" fill="#e8900c"/>
<rect x="500.94" y="75.03" width="1.75" height="1.75" fill="#e8900c"/>
<rect x="504.83" y="76.53" width="1.75" height="1.75" fill="#e8900c"/>
<rect x="501.75" y="78.03" width="1.75" height="1.75" fill="#e8900c"/>
<rect x="503.28" y="79.53" width="1.75" height="1.75" fill="#e8900c"/>
<rect x="498.78" y="81.03" width="1.75" height="1.75" fill="#e8900c"/>
<rect x="504.35" y="82.62" width="1.75" height="1.75" fill="#e8900c"/>
<rect x="500.64" y="85.62" width="1.75" height="1.75" fill="#e8900c"/>
<rect x="503.60" y="90.12" width="1.75" height="1.75" fill="#e8900c"/>
<rect x="501.37" y="77.30" width="1.75" height="1.75" fill="#e8900c"/>
<rect x="505.54" y="61.10" width="1.75" height="1.75" fill="#e8900c"/>
<rect x="502.64" y="57.46" width="1.75" height="1.75" fill="#e8900c"/>
<rect x="503.77" y="70.30" width="1.75" height="1.75" fill="#e8900c"/>
<rect x="503.93" y="58.34" width="1.75" height="1.75" fill="#e8900c"/>
<rect x="505.78" y="68.64" width="1.75" height="1.75" fill="#e8900c"/>
<rect x="506.68" y="54.95" width="1.75" height="1.75" fill="#e8900c"/>
<rect x="505.47" y="59.13" width="1.75" height="1.75" fill="#e8900c"/>
<rect x="505.65" y="68.84" width="1.75" height="1.75" fill="#e8900c"/>
<rect x="501.34" y="59.43" width="1.75" height="1.75" fill="#e8900c"/>
<rect x="505.18" y="56.65" width="1.75" height="1.75" fill="#e8900c"/>
<rect x="500.36" y="69.61" width="1.75" height="1.75" fill="#e8900c"/>
<rect x="499.31" y="59.68" width="1.75" height="1.75" fill="#e8900c"/>
<rect x="503.34" y="59.93" width="1.75" height="1.75" fill="#e8900c"/>
<rect x="502.83" y="98.53" width="1.75" height="1.75" fill="#e8900c"/>
<line x1="498.51" y1="63.00" x2="508.91" y2="63.00" stroke="#111" stroke-width="1.8"/>
<line x1="503.71" y1="60.40" x2="503.71" y2="66.50" stroke="#222" stroke-width="1.1"/>
<line x1="501.31" y1="60.40" x2="506.11" y2="60.40" stroke="#222" stroke-width="1.2"/>
<line x1="501.31" y1="66.50" x2="506.11" y2="66.50" stroke="#222" stroke-width="1.2"/>
<defs><filter id="bl" filterUnits="userSpaceOnUse" x="0" y="0" width="520" height="475"><feConvolveMatrix order="5" kernelMatrix="1 4 6 4 1 4 16 24 16 4 6 24 36 24 6 4 16 24 16 4 1 4 6 4 1" divisor="256" edgeMode="none"/></filter><filter id="bl2" filterUnits="userSpaceOnUse" x="0" y="0" width="520" height="475"><feGaussianBlur stdDeviation="1.2"/></filter><filter id="bl3" filterUnits="userSpaceOnUse" x="0" y="0" width="520" height="475"><feConvolveMatrix order="3" kernelMatrix="1 2 1 2 4 2 1 2 1" divisor="16" edgeMode="none"/></filter></defs>
<text x="7.60" y="212.00" font-size="12.4" text-anchor="start" font-weight="bold" fill="#111">C</text>
<text x="93.30" y="221.70" font-size="8.2" text-anchor="middle" fill="#111">B-ALL</text>
<text x="93.30" y="231.50" font-size="8.2" text-anchor="middle" fill="#111">cell lines</text>
<text x="142.30" y="221.70" font-size="8.2" text-anchor="middle" fill="#111">T-ALL</text>
<text x="142.30" y="231.50" font-size="8.2" text-anchor="middle" fill="#111">cell lines</text>
<line x1="74.70" y1="236.60" x2="111.70" y2="236.60" stroke="#111" stroke-width="1.1"/>
<line x1="116.50" y1="236.60" x2="168.00" y2="236.60" stroke="#111" stroke-width="1.1"/>
<text x="81.00" y="271.00" font-size="8.0" text-anchor="start" transform="rotate(-45 81.0 271.0)" fill="#111">RCH-ACV</text>
<text x="100.00" y="270.00" font-size="8.0" text-anchor="start" transform="rotate(-45 100.0 270.0)" fill="#111">REH</text>
<text x="120.00" y="270.50" font-size="8.0" text-anchor="start" transform="rotate(-45 120.0 270.5)" fill="#111">JURKAT</text>
<text x="138.00" y="269.50" font-size="8.0" text-anchor="start" transform="rotate(-45 138.0 269.5)" fill="#111">MOLT-4</text>
<text x="158.20" y="269.50" font-size="8.0" text-anchor="start" transform="rotate(-45 158.2 269.5)" fill="#111">CEM</text>
<rect x="69.90" y="275.60" width="99.80" height="16.10" fill="#f3f3f3"/>
<rect x="69.90" y="295.70" width="99.80" height="15.70" fill="#ebebeb"/>
<rect x="69.90" y="314.90" width="99.80" height="16.10" fill="#f3f3f3"/>
<path d="M75.5 283.4 Q81 281.8 87 283.4" fill="none" stroke="#111" stroke-width="3.0" stroke-linecap="round" opacity="1.0" filter="url(#bl)"/>
<path d="M92.5 283.0 Q100 282.2 107 282.6 L107.5 281.8" fill="none" stroke="#111" stroke-width="2.8" stroke-linecap="round" opacity="0.95" filter="url(#bl)"/>
<path d="M113.5 282.0 Q119 279.2 124.5 281.8" fill="none" stroke="#111" stroke-width="3.0" stroke-linecap="round" opacity="0.55" filter="url(#bl2)"/>
<path d="M133.5 281.0 Q136 280.2 138 281.0 Q140.5 281.5 142.5 280.0" fill="none" stroke="#111" stroke-width="2.0" stroke-linecap="round" opacity="0.45" filter="url(#bl)"/>
<path d="M150.5 281.0 Q157 280.5 162 278.6 L165.5 277.6" fill="none" stroke="#111" stroke-width="3.4" stroke-linecap="round" opacity="1.0" filter="url(#bl)"/>
<rect x="70.25" y="299.00" width="13.50" height="3.00" rx="1.50" fill="#111" opacity="0.95" filter="url(#bl)"/>
<rect x="70.50" y="301.05" width="13.00" height="3.50" rx="1.75" fill="#111" opacity="0.25" filter="url(#bl2)"/>
<rect x="88.75" y="298.70" width="17.50" height="3.00" rx="1.50" fill="#111" opacity="0.95" filter="url(#bl)"/>
<rect x="89.00" y="300.75" width="17.00" height="3.50" rx="1.75" fill="#111" opacity="0.25" filter="url(#bl2)"/>
<path d="M104.5 300 Q106.5 300.5 106.8 302.5" fill="none" stroke="#111" stroke-width="1.6" opacity="0.7" filter="url(#bl)"/>
<rect x="73.30" y="323.00" width="15.00" height="3.20" rx="1.60" fill="#111" opacity="1.0" filter="url(#bl)"/>
<path d="M74.00 319.50 Q74.00 324.60 76.50 324.60 L85.00 324.60 Q87.50 324.60 87.50 319.50" fill="none" stroke="#111" stroke-width="1.6" stroke-linecap="round" opacity="0.5" filter="url(#bl)"/>
<rect x="91.55" y="323.00" width="15.50" height="3.20" rx="1.60" fill="#111" opacity="1.0" filter="url(#bl)"/>
<path d="M92.00 320.00 Q92.00 324.60 94.50 324.60 L104.00 324.60 Q106.50 324.60 106.50 320.00" fill="none" stroke="#111" stroke-width="1.6" stroke-linecap="round" opacity="0.5" filter="url(#bl)"/>
<rect x="110.95" y="322.10" width="16.50" height="4.60" rx="2.30" fill="#111" opacity="1.0" filter="url(#bl)"/>
<path d="M112.00 319.50 Q112.00 323.00 114.50 323.00 L124.00 323.00 Q126.50 323.00 126.50 319.50" fill="none" stroke="#111" stroke-width="2.0" stroke-linecap="round" opacity="0.6" filter="url(#bl)"/>
<rect x="130.00" y="320.55" width="15.00" height="5.50" rx="2.75" fill="#111" opacity="0.55" filter="url(#bl2)"/>
<rect x="131.00" y="323.60" width="13.00" height="2.40" rx="1.20" fill="#111" opacity="0.6" filter="url(#bl)"/>
<path d="M150.3 322.8 Q151.5 325.2 156 325.0 L162 324.6 Q165.5 324 165.8 317.8" fill="none" stroke="#111" stroke-width="2.8" stroke-linecap="round" filter="url(#bl)"/>
<rect x="69.90" y="275.60" width="99.80" height="16.10" fill="none" stroke="#000" stroke-width="1.6"/>
<rect x="69.90" y="295.70" width="99.80" height="15.70" fill="none" stroke="#000" stroke-width="1.6"/>
<rect x="69.90" y="314.90" width="99.80" height="16.10" fill="none" stroke="#000" stroke-width="1.6"/>
<text x="63.30" y="282.10" font-size="8.0" text-anchor="end" fill="#111">26 kDa</text>
<line x1="64.80" y1="279.90" x2="69.90" y2="279.90" stroke="#111" stroke-width="1.1"/>
<text x="63.30" y="298.90" font-size="8.0" text-anchor="end" fill="#111">26 kDa</text>
<line x1="64.80" y1="296.70" x2="69.90" y2="296.70" stroke="#111" stroke-width="1.1"/>
<text x="63.30" y="320.80" font-size="8.0" text-anchor="end" fill="#111">42kDa</text>
<line x1="64.80" y1="318.60" x2="69.90" y2="318.60" stroke="#111" stroke-width="1.1"/>
<text x="173.20" y="287.00" font-size="8.2" text-anchor="start" fill="#111">AK2</text>
<text x="173.20" y="306.30" font-size="8.2" text-anchor="start" fill="#111">AK1</text>
<text x="173.20" y="325.60" font-size="8.2" text-anchor="start" fill="#111">Actin</text>
<rect x="206.60" y="275.60" width="32.90" height="16.40" fill="#f3f3f3"/>
<rect x="206.60" y="295.60" width="32.90" height="15.40" fill="#eeeeee"/>
<rect x="206.60" y="314.10" width="32.90" height="15.90" fill="#f3f3f3"/>
<rect x="208.70" y="282.60" width="13.40" height="3.80" rx="1.90" fill="#111" opacity="1.0" filter="url(#bl)"/>
<rect x="224.10" y="282.60" width="13.00" height="3.80" rx="1.90" fill="#111" opacity="1.0" filter="url(#bl)"/>
<rect x="211.00" y="301.30" width="10.00" height="4.00" rx="2.00" fill="#111" opacity="0.22" filter="url(#bl2)"/>
<rect x="225.00" y="301.00" width="10.00" height="4.00" rx="2.00" fill="#111" opacity="0.25" filter="url(#bl2)"/>
<path d="M207.5 316.5 Q214 319 222 319.5 L223 317.5 Q231 320 238.5 317.5 L238.5 325.5 Q230 326.5 223 325 Q216 326 207.5 324.5 Z" fill="#080808" filter="url(#bl3)"/>
<rect x="206.60" y="275.60" width="32.90" height="16.40" fill="none" stroke="#000" stroke-width="1.6"/>
<rect x="206.60" y="295.60" width="32.90" height="15.40" fill="none" stroke="#000" stroke-width="1.6"/>
<rect x="206.60" y="314.10" width="32.90" height="15.90" fill="none" stroke="#000" stroke-width="1.6"/>
<text x="219.20" y="271.80" font-size="8.4" text-anchor="start" transform="rotate(-90 219.2 271.8)" fill="#111" textLength="19.4" lengthAdjust="spacingAndGlyphs">Th 96</text>
<text x="234.00" y="271.80" font-size="8.4" text-anchor="start" transform="rotate(-90 234.0 271.8)" fill="#111" textLength="19.4" lengthAdjust="spacingAndGlyphs">Th 97</text>
<text x="274.00" y="212.30" font-size="12.4" text-anchor="start" font-weight="bold" fill="#111">D</text>
<text x="327.20" y="262.00" font-size="8.3" text-anchor="start" transform="rotate(-90 327.2 262.0)" fill="#111">UPN#7</text>
<text x="350.30" y="262.00" font-size="8.3" text-anchor="start" transform="rotate(-90 350.3 262.0)" fill="#111">UPN#6</text>
<text x="373.50" y="262.00" font-size="8.3" text-anchor="start" transform="rotate(-90 373.5 262.0)" fill="#111">UPN#5</text>
<text x="396.70" y="262.00" font-size="8.3" text-anchor="start" transform="rotate(-90 396.7 262.0)" fill="#111">UPN#4</text>
<text x="419.90" y="262.00" font-size="8.3" text-anchor="start" transform="rotate(-90 419.9 262.0)" fill="#111">UPN#3</text>
<text x="443.20" y="262.00" font-size="8.3" text-anchor="start" transform="rotate(-90 443.2 262.0)" fill="#111">UPN#2</text>
<text x="466.30" y="262.00" font-size="8.3" text-anchor="start" transform="rotate(-90 466.3 262.0)" fill="#111">UPN#1</text>
<rect x="312.00" y="265.40" width="165.00" height="9.90" fill="#f2f2f2"/>
<rect x="312.00" y="285.50" width="165.00" height="9.90" fill="#eeeeee"/>
<rect x="312.00" y="307.60" width="165.00" height="10.00" fill="#eeeeee"/>
<rect x="315.00" y="267.60" width="17.00" height="4.40" rx="2.20" fill="#111" opacity="1.0" filter="url(#bl)"/>
<rect x="336.00" y="267.30" width="15.00" height="3.00" rx="1.50" fill="#111" opacity="0.85" filter="url(#bl)"/>
<rect x="345.50" y="267.90" width="8.00" height="2.00" rx="1.00" fill="#111" opacity="0.5" filter="url(#bl)"/>
<rect x="357.80" y="266.80" width="21.00" height="5.20" rx="2.60" fill="#111" opacity="1.0" filter="url(#bl)"/>
<rect x="385.00" y="268.50" width="18.00" height="2.20" rx="1.10" fill="#111" opacity="0.35" filter="url(#bl)"/>
<rect x="406.75" y="267.80" width="17.50" height="3.40" rx="1.70" fill="#111" opacity="0.7" filter="url(#bl)"/>
<rect x="430.05" y="266.90" width="21.50" height="5.40" rx="2.70" fill="#111" opacity="1.0" filter="url(#bl)"/>
<rect x="454.50" y="268.60" width="17.00" height="2.60" rx="1.30" fill="#111" opacity="0.65" filter="url(#bl)"/>
<rect x="316.00" y="288.80" width="16.00" height="2.00" rx="1.00" fill="#111" opacity="0.18" filter="url(#bl)"/>
<rect x="338.75" y="287.90" width="18.50" height="3.20" rx="1.60" fill="#111" opacity="0.7" filter="url(#bl)"/>
<rect x="363.10" y="289.20" width="15.00" height="2.00" rx="1.00" fill="#111" opacity="0.25" filter="url(#bl)"/>
<rect x="380.70" y="290.10" width="1.80" height="1.80" rx="0.90" fill="#111" opacity="0.8" filter="url(#bl)"/>
<rect x="386.00" y="289.10" width="16.00" height="1.80" rx="0.90" fill="#111" opacity="0.15" filter="url(#bl)"/>
<rect x="408.50" y="287.70" width="20.00" height="4.40" rx="2.20" fill="#111" opacity="1.0" filter="url(#bl)"/>
<rect x="429.05" y="288.10" width="21.50" height="3.60" rx="1.80" fill="#111" opacity="0.85" filter="url(#bl)"/>
<rect x="455.50" y="289.10" width="15.00" height="1.80" rx="0.90" fill="#111" opacity="0.15" filter="url(#bl)"/>
<rect x="312.80" y="309.00" width="22.80" height="5.60" rx="2.80" fill="#111" opacity="1.0" filter="url(#bl)"/>
<rect x="313.20" y="314.00" width="22.00" height="2.00" rx="1.00" fill="#111" opacity="0.2" filter="url(#bl)"/>
<rect x="335.90" y="309.00" width="22.80" height="5.60" rx="2.80" fill="#111" opacity="1.0" filter="url(#bl)"/>
<rect x="336.30" y="314.00" width="22.00" height="2.00" rx="1.00" fill="#111" opacity="0.2" filter="url(#bl)"/>
<rect x="359.10" y="309.00" width="22.80" height="5.60" rx="2.80" fill="#111" opacity="1.0" filter="url(#bl)"/>
<rect x="359.50" y="314.00" width="22.00" height="2.00" rx="1.00" fill="#111" opacity="0.2" filter="url(#bl)"/>
<rect x="382.30" y="309.00" width="22.80" height="5.60" rx="2.80" fill="#111" opacity="1.0" filter="url(#bl)"/>
<rect x="382.70" y="314.00" width="22.00" height="2.00" rx="1.00" fill="#111" opacity="0.2" filter="url(#bl)"/>
<rect x="405.50" y="309.00" width="22.80" height="5.60" rx="2.80" fill="#111" opacity="1.0" filter="url(#bl)"/>
<rect x="405.90" y="314.00" width="22.00" height="2.00" rx="1.00" fill="#111" opacity="0.2" filter="url(#bl)"/>
<rect x="428.80" y="309.00" width="22.80" height="5.60" rx="2.80" fill="#111" opacity="1.0" filter="url(#bl)"/>
<rect x="429.20" y="314.00" width="22.00" height="2.00" rx="1.00" fill="#111" opacity="0.2" filter="url(#bl)"/>
<rect x="451.90" y="309.50" width="22.80" height="4.60" rx="2.30" fill="#111" opacity="1.0" filter="url(#bl)"/>
<rect x="452.30" y="314.00" width="22.00" height="2.00" rx="1.00" fill="#111" opacity="0.2" filter="url(#bl)"/>
<rect x="335.00" y="314.30" width="2.00" height="1.40" rx="0.70" fill="#111" opacity="0.6" filter="url(#bl)"/>
<rect x="312.00" y="265.40" width="165.00" height="9.90" fill="none" stroke="#000" stroke-width="1.3"/>
<rect x="312.00" y="285.50" width="165.00" height="9.90" fill="none" stroke="#000" stroke-width="1.3"/>
<rect x="312.00" y="307.60" width="165.00" height="10.00" fill="none" stroke="#000" stroke-width="1.3"/>
<text x="309.30" y="273.40" font-size="8.2" text-anchor="end" fill="#111">26 kDa</text>
<text x="309.30" y="293.30" font-size="8.2" text-anchor="end" fill="#111">22 kDa</text>
<text x="309.30" y="315.40" font-size="8.2" text-anchor="end" fill="#111">43 kDa</text>
<text x="479.60" y="272.80" font-size="8.4" text-anchor="start" fill="#111">AK2</text>
<text x="479.60" y="292.80" font-size="8.4" text-anchor="start" fill="#111">AK1</text>
<text x="479.60" y="315.00" font-size="8.4" text-anchor="start" fill="#111">Actin</text>
<text x="324.20" y="281.90" font-size="5.6" text-anchor="middle" fill="#222" style="stroke-width:0.12px">0.44</text>
<text x="324.20" y="302.60" font-size="5.6" text-anchor="middle" fill="#222" style="stroke-width:0.12px">0.03</text>
<text x="347.30" y="281.90" font-size="5.6" text-anchor="middle" fill="#222" style="stroke-width:0.12px">0.38</text>
<text x="347.30" y="302.60" font-size="5.6" text-anchor="middle" fill="#222" style="stroke-width:0.12px">0.11</text>
<text x="370.50" y="281.90" font-size="5.6" text-anchor="middle" fill="#222" style="stroke-width:0.12px">0.74</text>
<text x="370.50" y="302.60" font-size="5.6" text-anchor="middle" fill="#222" style="stroke-width:0.12px">0.023</text>
<text x="393.70" y="281.90" font-size="5.6" text-anchor="middle" fill="#222" style="stroke-width:0.12px">0.23</text>
<text x="393.70" y="302.60" font-size="5.6" text-anchor="middle" fill="#222" style="stroke-width:0.12px">0.037</text>
<text x="416.90" y="281.90" font-size="5.6" text-anchor="middle" fill="#222" style="stroke-width:0.12px">0.29</text>
<text x="416.90" y="302.60" font-size="5.6" text-anchor="middle" fill="#222" style="stroke-width:0.12px">0.53</text>
<text x="440.20" y="281.90" font-size="5.6" text-anchor="middle" fill="#222" style="stroke-width:0.12px">1.12</text>
<text x="440.20" y="302.60" font-size="5.6" text-anchor="middle" fill="#222" style="stroke-width:0.12px">0.34</text>
<text x="463.30" y="281.90" font-size="5.6" text-anchor="middle" fill="#222" style="stroke-width:0.12px">0.26</text>
<text x="463.30" y="302.60" font-size="5.6" text-anchor="middle" fill="#222" style="stroke-width:0.12px">0.080</text>
<line x1="74.90" y1="349.80" x2="74.90" y2="441.00" stroke="#222" stroke-width="1.1"/>
<line x1="71.90" y1="351.30" x2="74.90" y2="351.30" stroke="#222" stroke-width="1.1"/>
<text x="68.30" y="354.10" font-size="7.8" text-anchor="end" fill="#111">1.5</text>
<line x1="71.90" y1="381.20" x2="74.90" y2="381.20" stroke="#222" stroke-width="1.1"/>
<text x="68.30" y="384.00" font-size="7.8" text-anchor="end" fill="#111">1.0</text>
<line x1="71.90" y1="411.10" x2="74.90" y2="411.10" stroke="#222" stroke-width="1.1"/>
<text x="68.30" y="413.90" font-size="7.8" text-anchor="end" fill="#111">0.5</text>
<line x1="71.90" y1="441.00" x2="74.90" y2="441.00" stroke="#222" stroke-width="1.1"/>
<text x="68.30" y="443.80" font-size="7.8" text-anchor="end" fill="#111">0.0</text>
<rect x="82.00" y="374.62" width="8.00" height="66.38" fill="#a80a36"/>
<line x1="86.00" y1="372.23" x2="86.00" y2="374.62" stroke="#333" stroke-width="1.1"/>
<line x1="82.90" y1="372.23" x2="89.10" y2="372.23" stroke="#333" stroke-width="1.3"/>
<rect x="100.20" y="414.39" width="7.80" height="26.61" fill="#2c4c8c"/>
<line x1="104.10" y1="412.30" x2="104.10" y2="414.39" stroke="#333" stroke-width="1.1"/>
<line x1="101.00" y1="412.30" x2="107.20" y2="412.30" stroke="#333" stroke-width="1.3"/>
<rect x="118.00" y="373.13" width="8.00" height="67.87" fill="#6aae47"/>
<line x1="122.00" y1="364.46" x2="122.00" y2="373.13" stroke="#333" stroke-width="1.1"/>
<line x1="118.90" y1="364.46" x2="125.10" y2="364.46" stroke="#333" stroke-width="1.3"/>
<line x1="71.90" y1="441.00" x2="130.80" y2="441.00" stroke="#222" stroke-width="1.5"/>
<line x1="86.20" y1="367.40" x2="104.90" y2="367.40" stroke="#222" stroke-width="1.2"/>
<ellipse cx="95.5" cy="363.2" rx="1.1" ry="0.95" fill="#111"/>
<line x1="104.20" y1="357.20" x2="122.80" y2="357.20" stroke="#222" stroke-width="1.2"/>
<ellipse cx="113.5" cy="353.0" rx="1.1" ry="0.95" fill="#111"/>
<text x="37.1" y="394.5" font-size="8.4" text-anchor="middle" transform="rotate(-90 37.1 394.5)" textLength="69.5" lengthAdjust="spacingAndGlyphs" dominant-baseline="central" fill="#111" style="stroke-width:0.42px">AK2 protein expression</text>
<text x="47.4" y="394.5" font-size="8.4" text-anchor="middle" transform="rotate(-90 47.4 394.5)" textLength="69.5" lengthAdjust="spacingAndGlyphs" dominant-baseline="central" fill="#111" style="stroke-width:0.42px">(quantitated over actin)</text>
<text x="89.60" y="447.60" font-size="7.4" text-anchor="end" transform="rotate(-45 89.6 447.6)" fill="#111">B-ALL</text>
<text x="107.40" y="446.80" font-size="7.4" text-anchor="end" transform="rotate(-45 107.4 446.8)" fill="#111">Thymus</text>
<text x="125.80" y="447.60" font-size="7.4" text-anchor="end" transform="rotate(-45 125.8 447.6)" fill="#111">T-ALL</text>
<line x1="189.80" y1="350.00" x2="189.80" y2="441.00" stroke="#222" stroke-width="1.1"/>
<line x1="186.80" y1="352.20" x2="189.80" y2="352.20" stroke="#222" stroke-width="1.1"/>
<text x="183.20" y="355.00" font-size="7.8" text-anchor="end" fill="#111">0.8</text>
<line x1="186.80" y1="374.40" x2="189.80" y2="374.40" stroke="#222" stroke-width="1.1"/>
<text x="183.20" y="377.20" font-size="7.8" text-anchor="end" fill="#111">0.6</text>
<line x1="186.80" y1="396.60" x2="189.80" y2="396.60" stroke="#222" stroke-width="1.1"/>
<text x="183.20" y="399.40" font-size="7.8" text-anchor="end" fill="#111">0.4</text>
<line x1="186.80" y1="418.80" x2="189.80" y2="418.80" stroke="#222" stroke-width="1.1"/>
<text x="183.20" y="421.60" font-size="7.8" text-anchor="end" fill="#111">0.2</text>
<line x1="186.80" y1="441.00" x2="189.80" y2="441.00" stroke="#222" stroke-width="1.1"/>
<text x="183.20" y="443.80" font-size="7.8" text-anchor="end" fill="#111">0.0</text>
<rect x="196.90" y="382.39" width="7.90" height="58.61" fill="#a80a36"/>
<line x1="200.85" y1="365.52" x2="200.85" y2="382.39" stroke="#333" stroke-width="1.1"/>
<line x1="197.75" y1="365.52" x2="203.95" y2="365.52" stroke="#333" stroke-width="1.3"/>
<rect x="214.60" y="439.67" width="8.40" height="1.33" fill="#2c4c8c"/>
<line x1="218.80" y1="437.67" x2="218.80" y2="439.67" stroke="#333" stroke-width="1.1"/>
<line x1="215.70" y1="437.67" x2="221.90" y2="437.67" stroke="#333" stroke-width="1.3"/>
<rect x="233.30" y="433.79" width="7.70" height="7.21" fill="#6aae47"/>
<line x1="237.15" y1="427.68" x2="237.15" y2="433.79" stroke="#333" stroke-width="1.1"/>
<line x1="234.05" y1="427.68" x2="240.25" y2="427.68" stroke="#333" stroke-width="1.3"/>
<line x1="186.80" y1="441.00" x2="245.80" y2="441.00" stroke="#222" stroke-width="1.5"/>
<line x1="201.00" y1="361.60" x2="219.80" y2="361.60" stroke="#222" stroke-width="1.2"/>
<ellipse cx="208.75" cy="357.5" rx="1.1" ry="0.95" fill="#111"/>
<ellipse cx="211.9" cy="357.5" rx="1.1" ry="0.95" fill="#111"/>
<line x1="218.80" y1="424.40" x2="238.10" y2="424.40" stroke="#222" stroke-width="1.2"/>
<text x="228.45" y="421.80" font-size="7.6" text-anchor="middle" fill="#111">ns</text>
<text x="153.1" y="395.6" font-size="8.4" text-anchor="middle" transform="rotate(-90 153.1 395.6)" textLength="69.5" lengthAdjust="spacingAndGlyphs" dominant-baseline="central" fill="#111" style="stroke-width:0.42px">AK1 protein expression</text>
<text x="164.0" y="395.6" font-size="8.4" text-anchor="middle" transform="rotate(-90 164.0 395.6)" textLength="69.5" lengthAdjust="spacingAndGlyphs" dominant-baseline="central" fill="#111" style="stroke-width:0.42px">(quantitated over actin)</text>
<text x="204.10" y="447.60" font-size="7.4" text-anchor="end" transform="rotate(-45 204.1 447.6)" fill="#111">B-ALL</text>
<text x="222.00" y="446.80" font-size="7.4" text-anchor="end" transform="rotate(-45 222.0 446.8)" fill="#111">Thymus</text>
<text x="240.60" y="447.60" font-size="7.4" text-anchor="end" transform="rotate(-45 240.6 447.6)" fill="#111">T-ALL</text>
<text x="275.00" y="343.60" font-size="12" text-anchor="start" font-weight="bold" fill="#111">E</text>
<line x1="371.10" y1="347.90" x2="371.10" y2="441.00" stroke="#222" stroke-width="1.3"/>
<line x1="368.10" y1="441.00" x2="371.10" y2="441.00" stroke="#222" stroke-width="1.1"/>
<text x="365.60" y="443.90" font-size="8.3" text-anchor="end" fill="#111">0</text>
<line x1="368.10" y1="410.85" x2="371.10" y2="410.85" stroke="#222" stroke-width="1.1"/>
<text x="365.60" y="413.75" font-size="8.3" text-anchor="end" fill="#111">5</text>
<line x1="368.10" y1="380.70" x2="371.10" y2="380.70" stroke="#222" stroke-width="1.1"/>
<text x="365.60" y="383.60" font-size="8.3" text-anchor="end" fill="#111">10</text>
<line x1="368.10" y1="350.55" x2="371.10" y2="350.55" stroke="#222" stroke-width="1.1"/>
<text x="365.60" y="353.45" font-size="8.3" text-anchor="end" fill="#111">15</text>
<line x1="368.10" y1="441.00" x2="421.00" y2="441.00" stroke="#222" stroke-width="1.5"/>
<line x1="383.40" y1="441.00" x2="383.40" y2="443.80" stroke="#222" stroke-width="1.1"/>
<line x1="408.60" y1="441.00" x2="408.60" y2="443.80" stroke="#222" stroke-width="1.1"/>
<text x="386.50" y="450.70" font-size="8.0" text-anchor="end" transform="rotate(-45 386.5 450.7)" fill="#111">AK1</text>
<text x="411.70" y="450.70" font-size="8.0" text-anchor="end" transform="rotate(-45 411.7 450.7)" fill="#111">AK2</text>
<text x="346.8" y="394.6" font-size="8.6" text-anchor="middle" transform="rotate(-90 346.8 394.6)" textLength="68.6" lengthAdjust="spacingAndGlyphs" dominant-baseline="central" fill="#111" style="stroke-width:0.42px">mRNA log2 expression</text>
<line x1="382.90" y1="353.20" x2="410.00" y2="353.20" stroke="#222" stroke-width="1.2"/>
<circle cx="393.6" cy="348.9" r="1.0" fill="#111"/>
<circle cx="396.7" cy="348.9" r="1.0" fill="#111"/>
<circle cx="399.8" cy="348.9" r="1.0" fill="#111"/>
<rect x="375.40" y="392.6" width="16.2" height="6.6" fill="#8c7ee0"/>
<line x1="383.40" y1="382.20" x2="383.40" y2="407.40" stroke="#111" stroke-width="1.1"/>
<line x1="379.00" y1="382.20" x2="387.80" y2="382.20" stroke="#111" stroke-width="1.3"/>
<line x1="379.00" y1="407.40" x2="387.80" y2="407.40" stroke="#111" stroke-width="1.3"/>
<circle cx="379.56" cy="386.59" r="0.85" fill="#000"/>
<circle cx="378.70" cy="389.21" r="0.85" fill="#000"/>
<circle cx="381.92" cy="388.29" r="0.85" fill="#000"/>
<circle cx="383.48" cy="384.46" r="0.85" fill="#000"/>
<circle cx="382.67" cy="384.30" r="0.85" fill="#000"/>
<circle cx="378.90" cy="384.56" r="0.85" fill="#000"/>
<circle cx="387.00" cy="387.40" r="0.85" fill="#000"/>
<circle cx="380.36" cy="384.99" r="0.85" fill="#000"/>
<circle cx="388.32" cy="389.02" r="0.85" fill="#000"/>
<circle cx="382.26" cy="388.62" r="0.85" fill="#000"/>
<circle cx="378.41" cy="391.81" r="0.85" fill="#000"/>
<circle cx="381.09" cy="390.87" r="0.85" fill="#000"/>
<circle cx="379.20" cy="385.15" r="0.85" fill="#000"/>
<circle cx="386.88" cy="386.47" r="0.85" fill="#000"/>
<circle cx="390.43" cy="393.57" r="0.9" fill="#000"/>
<circle cx="386.51" cy="393.23" r="0.9" fill="#000"/>
<circle cx="379.56" cy="393.09" r="0.9" fill="#000"/>
<circle cx="378.98" cy="396.20" r="0.9" fill="#000"/>
<circle cx="382.78" cy="394.98" r="0.9" fill="#000"/>
<circle cx="383.32" cy="394.34" r="0.9" fill="#000"/>
<circle cx="388.42" cy="393.45" r="0.9" fill="#000"/>
<circle cx="379.36" cy="393.10" r="0.9" fill="#000"/>
<circle cx="379.85" cy="392.87" r="0.9" fill="#000"/>
<circle cx="389.51" cy="394.19" r="0.9" fill="#000"/>
<circle cx="377.53" cy="394.09" r="0.9" fill="#000"/>
<circle cx="390.87" cy="393.68" r="0.9" fill="#000"/>
<circle cx="385.23" cy="393.01" r="0.9" fill="#000"/>
<circle cx="385.84" cy="394.08" r="0.9" fill="#000"/>
<circle cx="386.31" cy="393.95" r="0.9" fill="#000"/>
<circle cx="385.68" cy="394.49" r="0.9" fill="#000"/>
<circle cx="384.64" cy="395.86" r="0.9" fill="#000"/>
<circle cx="376.78" cy="393.28" r="0.9" fill="#000"/>
<circle cx="383.23" cy="396.02" r="0.9" fill="#000"/>
<circle cx="390.18" cy="393.46" r="0.9" fill="#000"/>
<circle cx="386.88" cy="394.77" r="0.9" fill="#000"/>
<circle cx="380.14" cy="395.80" r="0.9" fill="#000"/>
<circle cx="389.15" cy="394.01" r="0.9" fill="#000"/>
<circle cx="387.42" cy="393.26" r="0.9" fill="#000"/>
<circle cx="386.29" cy="393.13" r="0.9" fill="#000"/>
<circle cx="390.24" cy="395.19" r="0.9" fill="#000"/>
<circle cx="383.46" cy="395.67" r="0.9" fill="#000"/>
<circle cx="378.08" cy="393.47" r="0.9" fill="#000"/>
<circle cx="383.55" cy="394.60" r="0.9" fill="#000"/>
<circle cx="389.53" cy="393.04" r="0.9" fill="#000"/>
<circle cx="386.46" cy="394.53" r="0.9" fill="#000"/>
<circle cx="379.51" cy="393.55" r="0.9" fill="#000"/>
<circle cx="381.02" cy="392.84" r="0.9" fill="#000"/>
<circle cx="382.24" cy="393.71" r="0.9" fill="#000"/>
<circle cx="388.48" cy="394.08" r="0.9" fill="#000"/>
<circle cx="378.46" cy="395.83" r="0.9" fill="#000"/>
<circle cx="378.33" cy="394.15" r="0.9" fill="#000"/>
<circle cx="390.62" cy="395.05" r="0.9" fill="#000"/>
<circle cx="387.45" cy="393.49" r="0.9" fill="#000"/>
<circle cx="376.00" cy="393.82" r="0.9" fill="#000"/>
<circle cx="381.58" cy="397.89" r="0.85" fill="#000"/>
<circle cx="388.68" cy="396.92" r="0.85" fill="#000"/>
<circle cx="383.44" cy="396.52" r="0.85" fill="#000"/>
<circle cx="377.36" cy="399.19" r="0.85" fill="#000"/>
<circle cx="385.08" cy="398.16" r="0.85" fill="#000"/>
<circle cx="381.66" cy="396.62" r="0.85" fill="#000"/>
<circle cx="382.71" cy="398.61" r="0.85" fill="#000"/>
<circle cx="378.46" cy="398.68" r="0.85" fill="#000"/>
<circle cx="377.80" cy="397.21" r="0.85" fill="#000"/>
<circle cx="389.50" cy="398.02" r="0.85" fill="#000"/>
<circle cx="382.69" cy="402.43" r="0.85" fill="#000"/>
<circle cx="380.46" cy="402.47" r="0.85" fill="#000"/>
<circle cx="386.64" cy="403.88" r="0.85" fill="#000"/>
<circle cx="380.00" cy="402.92" r="0.85" fill="#000"/>
<circle cx="381.68" cy="402.12" r="0.85" fill="#000"/>
<circle cx="387.93" cy="400.50" r="0.85" fill="#000"/>
<circle cx="378.85" cy="404.98" r="0.85" fill="#000"/>
<circle cx="384.43" cy="404.16" r="0.85" fill="#000"/>
<circle cx="381.24" cy="401.29" r="0.85" fill="#000"/>
<circle cx="382.97" cy="403.05" r="0.85" fill="#000"/>
<circle cx="385.02" cy="403.12" r="0.85" fill="#000"/>
<circle cx="386.08" cy="399.80" r="0.85" fill="#000"/>
<rect x="400.80" y="372.6" width="15.8" height="3.0" fill="#8c7ee0"/>
<line x1="408.60" y1="362.90" x2="408.60" y2="380.40" stroke="#111" stroke-width="1.1"/>
<line x1="404.00" y1="362.90" x2="413.20" y2="362.90" stroke="#111" stroke-width="1.3"/>
<line x1="404.00" y1="380.40" x2="413.20" y2="380.40" stroke="#111" stroke-width="1.3"/>
<circle cx="409.02" cy="367.40" r="0.85" fill="#000"/>
<circle cx="408.36" cy="368.35" r="0.85" fill="#000"/>
<circle cx="409.21" cy="367.52" r="0.85" fill="#000"/>
<circle cx="408.68" cy="366.87" r="0.85" fill="#000"/>
<circle cx="410.65" cy="367.76" r="0.85" fill="#000"/>
<circle cx="410.93" cy="370.18" r="0.95" fill="#000"/>
<circle cx="403.31" cy="371.07" r="0.95" fill="#000"/>
<circle cx="406.75" cy="368.05" r="0.95" fill="#000"/>
<circle cx="413.19" cy="369.26" r="0.95" fill="#000"/>
<circle cx="410.10" cy="371.18" r="0.95" fill="#000"/>
<circle cx="410.99" cy="370.57" r="0.95" fill="#000"/>
<circle cx="407.71" cy="368.67" r="0.95" fill="#000"/>
<circle cx="414.61" cy="368.75" r="0.95" fill="#000"/>
<circle cx="413.32" cy="368.27" r="0.95" fill="#000"/>
<circle cx="411.37" cy="368.34" r="0.95" fill="#000"/>
<circle cx="407.19" cy="369.55" r="0.95" fill="#000"/>
<circle cx="401.48" cy="371.88" r="0.95" fill="#000"/>
<circle cx="414.74" cy="368.28" r="0.95" fill="#000"/>
<circle cx="402.55" cy="370.34" r="0.95" fill="#000"/>
<circle cx="415.21" cy="372.54" r="0.95" fill="#000"/>
<circle cx="407.46" cy="368.52" r="0.95" fill="#000"/>
<circle cx="405.83" cy="368.62" r="0.95" fill="#000"/>
<circle cx="403.62" cy="370.86" r="0.95" fill="#000"/>
<circle cx="401.96" cy="371.21" r="0.95" fill="#000"/>
<circle cx="413.27" cy="368.79" r="0.95" fill="#000"/>
<circle cx="407.40" cy="369.84" r="0.95" fill="#000"/>
<circle cx="408.26" cy="370.74" r="0.95" fill="#000"/>
<circle cx="401.65" cy="369.77" r="0.95" fill="#000"/>
<circle cx="415.52" cy="371.34" r="0.95" fill="#000"/>
<circle cx="411.02" cy="372.49" r="0.95" fill="#000"/>
<circle cx="406.57" cy="369.64" r="0.95" fill="#000"/>
<circle cx="411.17" cy="371.17" r="0.95" fill="#000"/>
<circle cx="404.68" cy="368.52" r="0.95" fill="#000"/>
<circle cx="408.77" cy="369.67" r="0.95" fill="#000"/>
<circle cx="408.60" cy="371.73" r="0.95" fill="#000"/>
<circle cx="413.37" cy="368.13" r="0.95" fill="#000"/>
<circle cx="408.88" cy="369.98" r="0.95" fill="#000"/>
<circle cx="407.52" cy="369.02" r="0.95" fill="#000"/>
<circle cx="412.62" cy="369.79" r="0.95" fill="#000"/>
<circle cx="409.34" cy="368.47" r="0.95" fill="#000"/>
<circle cx="411.50" cy="368.82" r="0.95" fill="#000"/>
<circle cx="405.29" cy="368.17" r="0.95" fill="#000"/>
<circle cx="410.63" cy="369.58" r="0.95" fill="#000"/>
<circle cx="408.00" cy="368.24" r="0.95" fill="#000"/>
<circle cx="405.37" cy="368.96" r="0.95" fill="#000"/>
<circle cx="415.39" cy="370.19" r="0.95" fill="#000"/>
<circle cx="415.35" cy="370.21" r="0.95" fill="#000"/>
<circle cx="414.88" cy="368.77" r="0.95" fill="#000"/>
<circle cx="404.00" cy="369.68" r="0.95" fill="#000"/>
<circle cx="414.70" cy="371.44" r="0.95" fill="#000"/>
<circle cx="405.17" cy="368.03" r="0.95" fill="#000"/>
<circle cx="406.26" cy="371.55" r="0.95" fill="#000"/>
<circle cx="401.33" cy="369.11" r="0.95" fill="#000"/>
<circle cx="410.36" cy="368.18" r="0.95" fill="#000"/>
<circle cx="415.98" cy="372.53" r="0.95" fill="#000"/>
<circle cx="401.55" cy="370.32" r="0.95" fill="#000"/>
<circle cx="412.85" cy="369.48" r="0.95" fill="#000"/>
<circle cx="410.66" cy="371.83" r="0.95" fill="#000"/>
<circle cx="409.00" cy="369.06" r="0.95" fill="#000"/>
<circle cx="410.48" cy="370.20" r="0.95" fill="#000"/>
<circle cx="411.01" cy="373.28" r="0.85" fill="#000"/>
<circle cx="413.14" cy="374.55" r="0.85" fill="#000"/>
<circle cx="405.10" cy="373.06" r="0.85" fill="#000"/>
<circle cx="405.03" cy="372.94" r="0.85" fill="#000"/>
<circle cx="403.79" cy="374.70" r="0.85" fill="#000"/>
<circle cx="404.88" cy="374.09" r="0.85" fill="#000"/>
<circle cx="407.71" cy="373.38" r="0.85" fill="#000"/>
<circle cx="410.01" cy="375.01" r="0.85" fill="#000"/>
<circle cx="410.42" cy="375.96" r="0.9" fill="#000"/>
<circle cx="412.56" cy="378.30" r="0.9" fill="#000"/>
<circle cx="406.40" cy="376.67" r="0.9" fill="#000"/>
<circle cx="410.03" cy="378.66" r="0.9" fill="#000"/>
<circle cx="410.26" cy="376.80" r="0.9" fill="#000"/>
<circle cx="411.10" cy="377.21" r="0.9" fill="#000"/>
<circle cx="406.11" cy="376.01" r="0.9" fill="#000"/>
<circle cx="407.32" cy="379.38" r="0.9" fill="#000"/>
<circle cx="411.34" cy="376.62" r="0.9" fill="#000"/>
<circle cx="405.45" cy="378.22" r="0.9" fill="#000"/>
<circle cx="410.08" cy="377.87" r="0.9" fill="#000"/>
<circle cx="409.97" cy="376.21" r="0.9" fill="#000"/>
<circle cx="407.13" cy="376.03" r="0.9" fill="#000"/>
<circle cx="405.94" cy="375.86" r="0.9" fill="#000"/>
<circle cx="407.73" cy="379.71" r="0.9" fill="#000"/>
<circle cx="408.05" cy="379.76" r="0.9" fill="#000"/>
<circle cx="411.95" cy="378.11" r="0.9" fill="#000"/>
<circle cx="405.10" cy="378.45" r="0.9" fill="#000"/>
<circle cx="409.80" cy="378.03" r="0.9" fill="#000"/>
<circle cx="404.95" cy="376.28" r="0.9" fill="#000"/>
<circle cx="408.72" cy="379.26" r="0.9" fill="#000"/>
<circle cx="408.17" cy="376.33" r="0.9" fill="#000"/>
<rect x="0" y="0" width="520" height="1" fill="#000"/>
<rect x="0" y="0" width="1" height="475" fill="#000"/>
<rect x="518.5" y="0" width="1.5" height="475" fill="#000"/>
<rect x="0" y="473.5" width="520" height="1.5" fill="#000"/>
</svg>
</body></html>
